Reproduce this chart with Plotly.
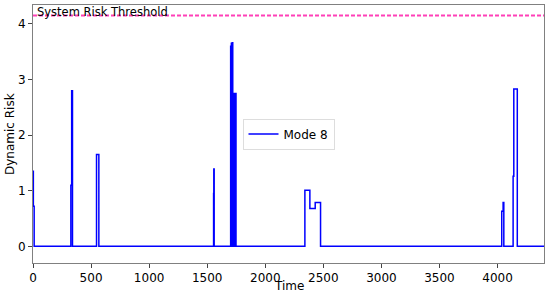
import plotly.graph_objects as go

# change points of the Mode 8 risk signal (step function, held until next point)
time = [0, 3, 10, 326, 333, 340, 547, 567, 1555, 1557, 1560,
        1702, 1706, 1708, 1714, 1716, 1720, 1727, 1729, 1735, 1737, 1748,
        2341, 2384, 2430, 2476, 4036, 4048, 4054, 4134, 4140, 4170, 4400]
risk = [1.35, 0.72, 0, 1.1, 2.8, 0, 1.65, 0, 0.95, 1.39, 0,
        3.6, 0, 3.65, 0, 3.66, 2.75, 0, 2.75, 0, 2.75, 0,
        1.01, 0.68, 0.79, 0, 0.63, 0.79, 0, 1.26, 2.83, 0, 0]

threshold = 4.15
x_ticks = [0, 500, 1000, 1500, 2000, 2500, 3000, 3500, 4000]
y_ticks = [0, 1, 2, 3, 4]

fig = go.Figure()
fig.add_trace(go.Scatter(
    x=time, y=risk, mode="lines", name="Mode 8",
    line=dict(color="#0000ff", width=1.5, shape="hv"),
))

# threshold line across the plot
fig.add_shape(type="line", xref="paper", x0=0, x1=1, yref="y", y0=threshold, y1=threshold,
              line=dict(color="#ff40b8", width=2, dash="4px,2px"))
fig.add_annotation(text="System Risk Threshold", xref="paper", x=0, xanchor="left", xshift=2,
                   yref="y", y=threshold + 0.07, yanchor="middle", showarrow=False,
                   font=dict(size=11.5, color="black"))

# axis titles placed by hand (margins are tight)
fig.add_annotation(text="Time", xref="paper", x=0.5, yref="paper", y=0, yanchor="middle",
                   yshift=-23, showarrow=False, font=dict(size=12, color="black"))
fig.add_annotation(text="Dynamic Risk", xref="paper", x=0, xanchor="center", xshift=-23,
                   yref="paper", y=0.5, textangle=-90, showarrow=False,
                   font=dict(size=12, color="black"))

axis_style = dict(showgrid=False, zeroline=False, showline=True, linecolor="#808080",
                  linewidth=1, mirror=True, ticks="outside", ticklen=4, tickcolor="#444444",
                  tickfont=dict(size=12, color="black"), automargin=False)

fig.update_layout(
    width=550, height=294,
    margin=dict(l=33, r=6, t=5, b=31, autoexpand=False),
    paper_bgcolor="white", plot_bgcolor="white",
    font=dict(family="DejaVu Sans", size=12, color="black"),
    xaxis=dict(range=[0, 4400], tickvals=x_ticks, **axis_style),
    yaxis=dict(range=[-0.3, 4.34], tickvals=y_ticks, **axis_style),
    showlegend=True,
    legend=dict(x=0.5, y=0.5, xanchor="center", yanchor="middle", itemwidth=30,
                bgcolor="white", bordercolor="#dddddd", borderwidth=1,
                font=dict(size=12)),
)

# drop the default page margin so the figure sits at the window corner
fig.write_html("out.html", config={"displayModeBar": False},
               post_script="document.body.style.margin = '0';")
